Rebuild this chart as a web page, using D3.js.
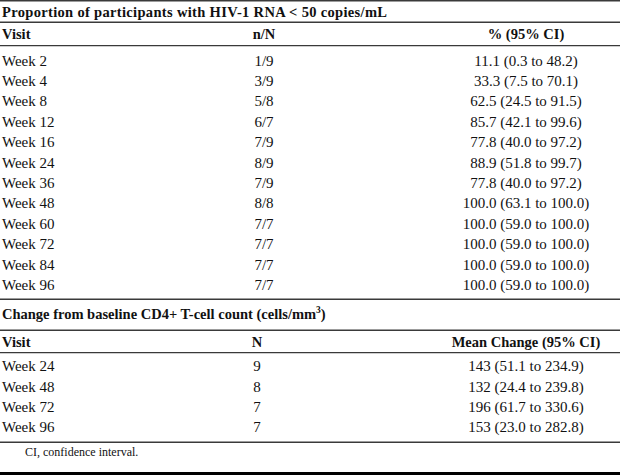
<!DOCTYPE html>
<html><head><meta charset="utf-8">
<script src="https://cdn.jsdelivr.net/npm/d3@7"></script>
<style>body{margin:0;background:#fff}svg{display:block}text{font-family:"Liberation Serif","Times New Roman",serif;fill:#111}</style>
</head><body>
<script>
const title1 = "Proportion of participants with HIV-1 RNA < 50 copies/mL";
const headers1 = ["Visit", "n/N", "% (95% CI)"];
const visits1 = ["Week 2","Week 4","Week 8","Week 12","Week 16","Week 24","Week 36","Week 48","Week 60","Week 72","Week 84","Week 96"];
const nSuppressed = [1,3,5,6,7,8,7,8,7,7,7,7];
const nTotal = [9,9,8,7,9,9,9,8,7,7,7,7];
const pct = [11.1,33.3,62.5,85.7,77.8,88.9,77.8,100.0,100.0,100.0,100.0,100.0];
const pctLow = [0.3,7.5,24.5,42.1,40.0,51.8,40.0,63.1,59.0,59.0,59.0,59.0];
const pctHigh = [48.2,70.1,91.5,99.6,97.2,99.7,97.2,100.0,100.0,100.0,100.0,100.0];

const title2 = "Change from baseline CD4+ T-cell count (cells/mm";
const headers2 = ["Visit", "N", "Mean Change (95% CI)"];
const visits2 = ["Week 24","Week 48","Week 72","Week 96"];
const n2 = [9,8,7,7];
const meanChange = [143,132,196,153];
const meanLow = [51.1,24.4,61.7,23.0];
const meanHigh = [234.9,239.8,330.6,282.8];
const footnote = "CI, confidence interval.";

const W = 620, H = 475, fs = 14.5, fsb = 15;
const svg = d3.select("body").append("svg").attr("width", W).attr("height", H);
const f1 = d => d.toFixed(1);

function hline(y, w, c) {
  svg.append("line").attr("x1", 0).attr("x2", W).attr("y1", y).attr("y2", y)
    .attr("stroke", c || "#3a3a3a").attr("stroke-width", w || 1.4);
}
const colX = {visit: 2, n1: 264, n2: 257, ci: 526};

// top block
hline(0.7, 1.6);
svg.append("text").attr("x", colX.visit).attr("y", 17).attr("font-size", fs).attr("font-weight", "bold")
  .attr("textLength", 385).attr("lengthAdjust", "spacing").text(title1);
hline(22.3);
const hy1 = 39;
svg.append("text").attr("x", colX.visit).attr("y", hy1).attr("font-size", fs).attr("font-weight", "bold").text(headers1[0]);
svg.append("text").attr("x", colX.n1).attr("y", hy1).attr("font-size", fs).attr("font-weight", "bold").attr("text-anchor", "middle").text(headers1[1]);
svg.append("text").attr("x", colX.ci).attr("y", hy1).attr("font-size", fs).attr("font-weight", "bold").attr("text-anchor", "middle").text(headers1[2]);
hline(45.6);

const y1 = d3.scalePoint().domain(visits1).range([60.7, 285]);
const rows1 = svg.append("g").selectAll("g").data(visits1).join("g")
  .attr("transform", d => `translate(0,${y1(d) + 5})`);
rows1.append("text").attr("x", colX.visit).attr("font-size", fsb).text(d => d);
rows1.append("text").attr("x", colX.n1).attr("font-size", fsb).attr("text-anchor", "middle")
  .text((d, i) => `${nSuppressed[i]}/${nTotal[i]}`);
rows1.append("text").attr("x", colX.ci).attr("font-size", fsb).attr("text-anchor", "middle")
  .text((d, i) => `${f1(pct[i])} (${f1(pctLow[i])} to ${f1(pctHigh[i])})`);
hline(299.3);

// second block
const t2 = svg.append("text").attr("x", colX.visit).attr("y", 319).attr("font-size", fs).attr("font-weight", "bold");
t2.append("tspan").text(title2);
t2.append("tspan").attr("font-size", 9.5).attr("dy", -6).text("3");
t2.append("tspan").attr("dy", 6).text(")");
hline(330.3);
const hy2 = 347;
svg.append("text").attr("x", colX.visit).attr("y", hy2).attr("font-size", fs).attr("font-weight", "bold").text(headers2[0]);
svg.append("text").attr("x", colX.n2).attr("y", hy2).attr("font-size", fs).attr("font-weight", "bold").attr("text-anchor", "middle").text(headers2[1]);
svg.append("text").attr("x", colX.ci).attr("y", hy2).attr("font-size", fs).attr("font-weight", "bold").attr("text-anchor", "middle").text(headers2[2]);
hline(352.6);

const y2 = d3.scalePoint().domain(visits2).range([366.3, 427.3]);
const rows2 = svg.append("g").selectAll("g").data(visits2).join("g")
  .attr("transform", d => `translate(0,${y2(d) + 5})`);
rows2.append("text").attr("x", colX.visit).attr("font-size", fsb).text(d => d);
rows2.append("text").attr("x", colX.n2).attr("font-size", fsb).attr("text-anchor", "middle").text((d, i) => n2[i]);
rows2.append("text").attr("x", colX.ci).attr("font-size", fsb).attr("text-anchor", "middle")
  .text((d, i) => `${meanChange[i]} (${f1(meanLow[i])} to ${f1(meanHigh[i])})`);
hline(442.3);

svg.append("text").attr("x", 25).attr("y", 456).attr("font-size", 12).text(footnote);
hline(473.5, 3, "#000");
</script>
</body></html>
